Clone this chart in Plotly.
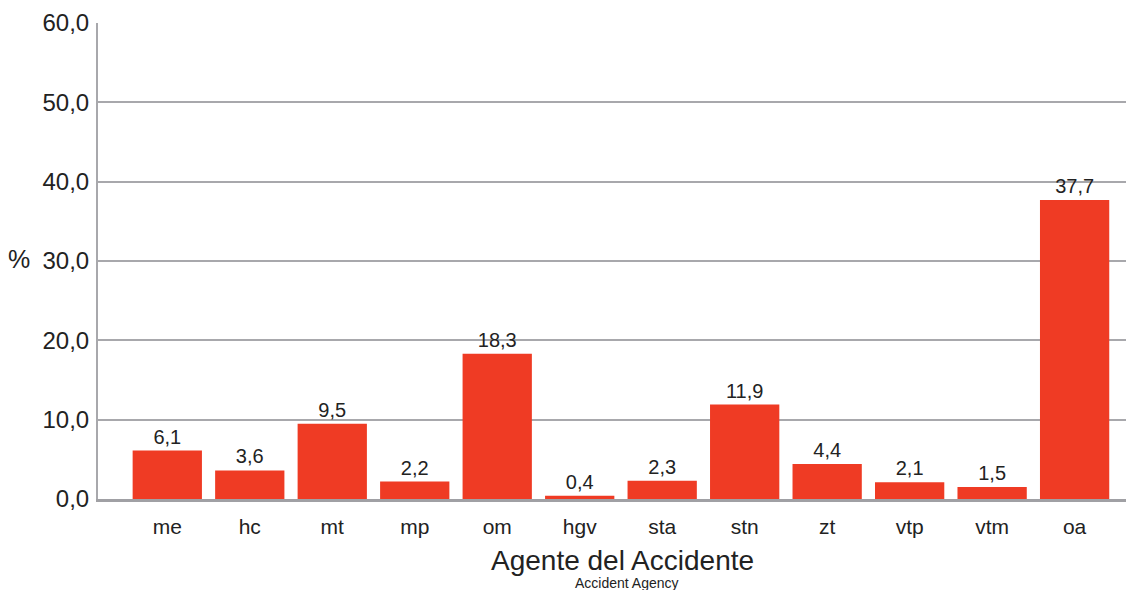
import plotly.graph_objects as go

categories = ["me", "hc", "mt", "mp", "om", "hgv", "sta", "stn", "zt", "vtp", "vtm", "oa"]
values = [6.1, 3.6, 9.5, 2.2, 18.3, 0.4, 2.3, 11.9, 4.4, 2.1, 1.5, 37.7]
y_ticks = [0, 10, 20, 30, 40, 50, 60]

FONT = "Liberation Sans, Arial, Helvetica, sans-serif"
TXT = "#222222"

fig = go.Figure(go.Bar(
    x=list(range(len(categories))),
    y=values,
    marker=dict(color="#EF3B24", line=dict(width=0)),
    width=0.84,
    text=[f"{v:.1f}".replace(".", ",") for v in values],
    textposition="outside",
    textfont=dict(family=FONT, size=20, color=TXT),
    cliponaxis=False,
))

fig.update_layout(
    width=1126, height=582,
    margin=dict(l=90, r=0, t=15, b=91),
    plot_bgcolor="white", paper_bgcolor="white",
    separators=",.",
    showlegend=False,
    font=dict(family=FONT, color=TXT),
    xaxis=dict(
        range=[-0.84, 11.72],
        tickmode="array",
        tickvals=list(range(len(categories))),
        ticktext=categories,
        tickfont=dict(size=21, family=FONT, color=TXT),
        showgrid=False,
        showline=True, linecolor="#A0A0A4", linewidth=2.5,
        ticks="outside", ticklen=7, tickcolor="rgba(0,0,0,0)",
        zeroline=False,
    ),
    yaxis=dict(
        range=[0, 60],
        tickmode="array",
        tickvals=y_ticks,
        ticktext=[f"{t:.1f}".replace(".", ",") for t in y_ticks],
        tickfont=dict(size=24, family=FONT, color=TXT),
        showgrid=True, gridcolor="#A8A8AC", gridwidth=1.5,
        showline=True, linecolor="#A8A8AC", linewidth=2,
        ticks="outside", ticklen=2, tickcolor="rgba(0,0,0,0)",
        zeroline=False,
    ),
)

fig.add_annotation(text="%", xref="paper", yref="paper", x=(24 - 90) / 1036, y=0.505,
                   xanchor="right", yanchor="middle", showarrow=False,
                   font=dict(size=25, family=FONT, color=TXT))
fig.add_annotation(text="Agente del Accidente", xref="paper", yref="paper",
                   x=(622 - 98) / 1036, y=-(560 - 499) / 476,
                   xanchor="center", yanchor="middle", showarrow=False,
                   font=dict(size=28, family=FONT, color=TXT))
fig.add_annotation(text="Accident Agency", xref="paper", yref="paper",
                   x=(627 - 98) / 1036, y=-(583 - 499) / 476,
                   xanchor="center", yanchor="middle", showarrow=False,
                   font=dict(size=14, family=FONT, color=TXT))

fig.write_html("out.html")
